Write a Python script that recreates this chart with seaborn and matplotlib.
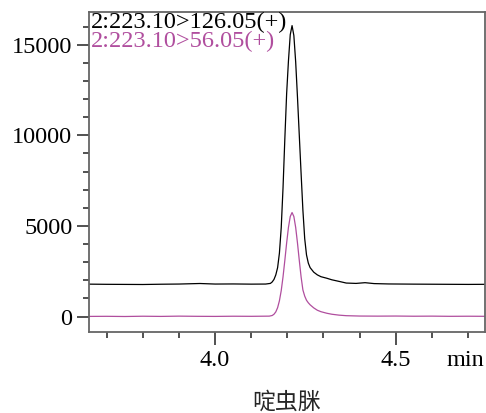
import numpy as np
import pandas as pd
import matplotlib
matplotlib.use("Agg")
import matplotlib.pyplot as plt
import seaborn as sns

# ---- data ----
t_126 = [3.650, 3.700, 3.750, 3.800, 3.850, 3.900, 3.958, 4.000, 4.050, 4.100,
         4.140, 4.153, 4.158, 4.163, 4.168, 4.173, 4.178, 4.183, 4.188, 4.193,
         4.198, 4.203, 4.208, 4.213, 4.218, 4.223, 4.228, 4.233, 4.238, 4.243,
         4.248, 4.253, 4.258, 4.263, 4.273, 4.283, 4.293, 4.309, 4.323, 4.346,
         4.363, 4.390, 4.415, 4.440, 4.480, 4.550, 4.600, 4.650, 4.700, 4.750]
i_126 = [1790, 1780, 1775, 1770, 1785, 1795, 1825, 1795, 1800, 1790,
         1795, 1830, 1910, 2050, 2300, 2700, 3500, 4900, 7100, 9800,
         12300, 14100, 15550, 16050, 15500, 14050, 12100, 10000, 7900, 5870,
         4300, 3400, 2950, 2700, 2450, 2300, 2200, 2116, 2030, 1928,
         1850, 1830, 1870, 1820, 1800, 1790, 1785, 1780, 1775, 1780]

t_56 = [3.650, 3.700, 3.750, 3.800, 3.850, 3.900, 3.950, 4.000, 4.050, 4.100,
        4.150, 4.158, 4.163, 4.168, 4.173, 4.178, 4.183, 4.188, 4.193, 4.198,
        4.203, 4.208, 4.213, 4.218, 4.223, 4.228, 4.233, 4.238, 4.243, 4.248,
        4.253, 4.258, 4.263, 4.273, 4.283, 4.293, 4.309, 4.323, 4.343, 4.363,
        4.400, 4.450, 4.500, 4.550, 4.600, 4.650, 4.700, 4.750]
i_56 = [10, 15, 5, 20, 10, 25, 15, 10, 20, 15,
        25, 60, 130, 260, 490, 870, 1430, 2190, 3100, 4060,
        4920, 5520, 5740, 5520, 4920, 4060, 3100, 2190, 1470, 1130,
        900, 760, 650, 480, 350, 270, 185, 130, 80, 50,
        30, 25, 30, 20, 25, 15, 20, 15]

label_126 = "2:223.10>126.05(+)"
label_56 = "2:223.10>56.05(+)"
title = "啶虫脒"
y_ticks = [0, 5000, 10000, 15000]
x_ticks = [4.0, 4.5]
x_ticklabels = ["4.0", "4.5"]

black = "#000000"
pink = "#b04e9e"

sns.set_theme(style="ticks")
plt.rcParams["font.family"] = ["Liberation Serif", "DejaVu Serif"]
plt.rcParams["axes.linewidth"] = 1.2

W, H = 486, 413
fig = plt.figure(figsize=(W / 100, H / 100), dpi=100)
ax = fig.add_axes([89 / W, 1 - 332 / H, (485 - 89) / W, (332 - 12) / H])

df1 = pd.DataFrame({"t": t_126, "i": i_126})
df2 = pd.DataFrame({"t": t_56, "i": i_56})
sns.lineplot(data=df1, x="t", y="i", color=black, linewidth=0.9, ax=ax)
sns.lineplot(data=df2, x="t", y="i", color=pink, linewidth=0.9, ax=ax)

ax.set_xlim(3.651, 4.747)
ax.set_ylim(-850, 16800)

ax.set_yticks(y_ticks)
ax.set_yticklabels([str(v) for v in y_ticks])
ax.set_yticks(np.arange(0, 16001, 1000), minor=True)
ax.set_xticks(x_ticks)
ax.set_xticklabels(x_ticklabels)
ax.set_xticks(np.round(np.arange(3.7, 4.71, 0.1), 2), minor=True)

fs = 17.5
ax.tick_params(axis="both", which="major", length=9, width=1.1, color="#222222",
               labelsize=fs, labelcolor="black", direction="out")
ax.tick_params(axis="both", which="minor", length=4.3, width=1.1, color="#222222",
               direction="out")
ax.tick_params(axis="y", which="major", pad=3)
ax.tick_params(axis="x", which="major", pad=4)

for s in ax.spines.values():
    s.set_color("#666666")
    s.set_linewidth(1.3)

ax.set_xlabel(title, fontsize=16.5, fontfamily=["Noto Sans CJK SC", "DejaVu Sans"],
              labelpad=14)
ax.set_ylabel("")

fig.text(91 / W, 1 - 28.5 / H, label_126, color=black, fontsize=fs,
         ha="left", va="baseline")
fig.text(91 / W, 1 - 47.5 / H, label_56, color=pink, fontsize=fs,
         ha="left", va="baseline")
fig.text(465 / W, 1 - 360 / H, "min", color="black", fontsize=fs,
         ha="center", va="center")

fig.savefig("out.png", dpi=100)
